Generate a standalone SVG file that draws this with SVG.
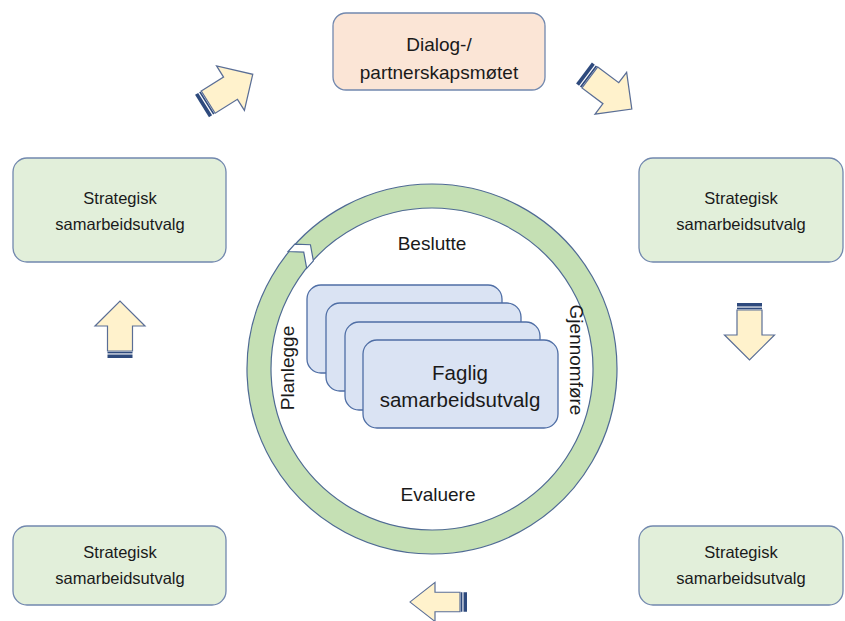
<svg xmlns="http://www.w3.org/2000/svg" xmlns:xlink="http://www.w3.org/1999/xlink" width="845" height="621" viewBox="0 0 845 621">
<style>
.box{fill:#e2efda;stroke:#7288ae;stroke-width:1.3}
.top{fill:#fbe5d6;stroke:#7288ae;stroke-width:1.3}
.card{fill:#dae3f3;stroke:#4f6ea5;stroke-width:1.3}
.t{font-family:"Liberation Sans",Arial,sans-serif;fill:#1a1a1a;text-anchor:middle}
.s{font-size:16.5px}
.l{font-size:19px}
.c{font-size:19px}
.af{fill:#fff2cc;stroke:#5a6e96;stroke-width:1.2;stroke-linejoin:miter}
.st{fill:#2e4a7d}
</style>
<defs>
<g id="arrow">
<polygon class="af" points="7,-12.5 32,-12.5 32,-25 57,0 32,25 32,12.5 7,12.5"/>
<rect class="st" x="0" y="-12.5" width="3.5" height="25"/>
<rect class="st" x="4.6" y="-12.5" width="1.6" height="25"/>
</g>
</defs>
<rect width="845" height="621" fill="#ffffff"/>

<g id="cycle">
<path d="M432,184 A185,185 0 1,1 431.99,184 Z M432,208 A161,161 0 1,0 432.01,208 Z" fill="#c5e0b4" fill-rule="evenodd" stroke="#4f6a94" stroke-width="1.2"/>
<g transform="translate(432,369) rotate(222)">
<polygon points="160.5,-9 173.5,1 185.5,-9 185.5,1 173.5,11 160.5,1" fill="#ffffff" stroke="#4f6a94" stroke-width="1.2" stroke-linejoin="miter"/>
</g>
<text class="t c" x="432" y="250">Beslutte</text>
<text class="t c" x="438" y="501">Evaluere</text>
<text class="t c" transform="translate(294,368) rotate(-90)">Planlegge</text>
<text class="t c" transform="translate(570,360) rotate(90)">Gjennomføre</text>
</g>

<g id="faglig">
<rect class="card" x="307" y="285" width="195" height="88" rx="14"/>
<rect class="card" x="326" y="303" width="195" height="88" rx="14"/>
<rect class="card" x="345" y="322" width="195" height="88" rx="14"/>
<rect class="card" x="363" y="340" width="195" height="88" rx="14"/>
<text class="t" style="font-size:20.5px" x="460" y="380">Faglig</text>
<text class="t" style="font-size:20.5px" x="460" y="407">samarbeidsutvalg</text>
</g>

<g id="dialog">
<rect class="top" x="333" y="13" width="212" height="77" rx="13"/>
<text class="t l" x="439" y="51">Dialog-/</text>
<text class="t l" x="439" y="79">partnerskapsmøtet</text>
</g>

<g id="strat-left-top">
<rect class="box" x="13" y="158" width="213" height="104" rx="14"/>
<text class="t s" x="120" y="204">Strategisk</text>
<text class="t s" x="120" y="230">samarbeidsutvalg</text>
</g>
<g id="strat-right-top">
<rect class="box" x="639" y="158" width="204" height="104" rx="14"/>
<text class="t s" x="741" y="204">Strategisk</text>
<text class="t s" x="741" y="230">samarbeidsutvalg</text>
</g>
<g id="strat-left-bottom">
<rect class="box" x="13" y="526" width="213" height="79" rx="14"/>
<text class="t s" x="120" y="558">Strategisk</text>
<text class="t s" x="120" y="584">samarbeidsutvalg</text>
</g>
<g id="strat-right-bottom">
<rect class="box" x="639" y="526" width="204" height="79" rx="14"/>
<text class="t s" x="741" y="558">Strategisk</text>
<text class="t s" x="741" y="584">samarbeidsutvalg</text>
</g>

<g id="connectors">
<use xlink:href="#arrow" transform="translate(202,106) rotate(-32) scale(1.05)"/>
<use xlink:href="#arrow" transform="translate(584,73) rotate(37) scale(1.05)"/>
<use xlink:href="#arrow" transform="translate(749.5,303) rotate(90)"/>
<use xlink:href="#arrow" transform="translate(120,358) rotate(-90)"/>
<use xlink:href="#arrow" transform="translate(467,602) rotate(180) scale(1,0.78)"/>
</g>
</svg>
